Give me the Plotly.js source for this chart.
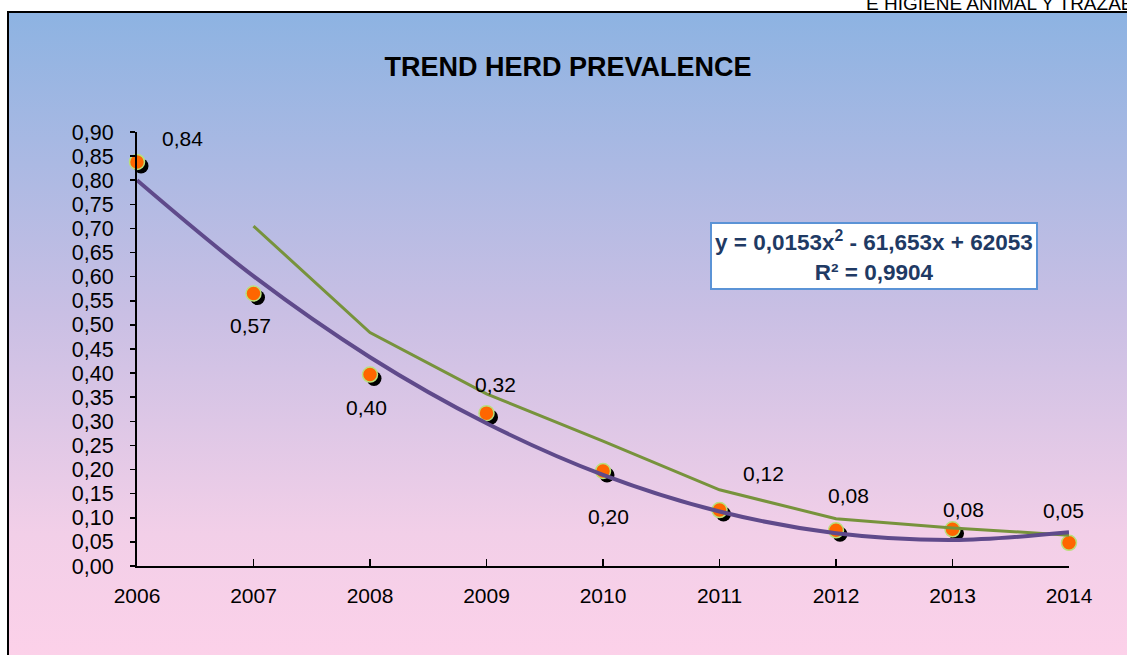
<!DOCTYPE html>
<html>
<head>
<meta charset="utf-8">
<script src="https://cdn.plot.ly/plotly-3.0.1.min.js"></script>
<style>
  html, body { margin:0; padding:0; width:1127px; height:655px; overflow:hidden; background:#ffffff; }
  #frame { position:absolute; left:7px; top:11px; width:1140px; height:700px;
           border:2px solid #000; box-sizing:border-box;
           background:linear-gradient(to bottom, #8db3e2 0px, #c9bfe4 300px, #f2cfe8 520px, #fcd1e9 644px); }
  #header { position:absolute; left:866px; top:-6px; font-family:"Liberation Sans", Arial, sans-serif;
            font-size:19px; line-height:19px; color:#000; white-space:nowrap; }
  #chart { position:absolute; left:0; top:0; width:1127px; height:655px; }
</style>
</head>
<body>
<div id="frame"></div>
<div id="header">E HIGIENE ANIMAL Y TRAZAB</div>
<div id="chart"></div>
<script>
// ---- data ----
const years = [2006, 2007, 2008, 2009, 2010, 2011, 2012, 2013, 2014];
const prevalence = [0.838, 0.565, 0.397, 0.317, 0.197, 0.116, 0.074, 0.076, 0.048];
const labels = ["0,84", "0,57", "0,40", "0,32", "0,20", "0,12", "0,08", "0,08", "0,05"];
const movAvgYears = [2007, 2008, 2009, 2010, 2011, 2012, 2013, 2014];
const movAvg = [0.705, 0.484, 0.357, 0.259, 0.158, 0.098, 0.079, 0.064];
const trend = [0.80, 0.601, 0.433, 0.296, 0.189, 0.113, 0.068, 0.054, 0.070];
const equationText = "y = 0,0153x<sup>2</sup> - 61,653x + 62053<br>R² = 0,9904";
const titleText = "TREND HERD PREVALENCE";

// label offsets in pixels (dx, dy up)
const labelShift = [[45, 23], [-3, -32], [-4, -33], [9, 29], [5, -45], [44, 37], [12, 35], [11, 20], [-6, 32]];

// ---- layout geometry ----
const W = 1127, H = 655;
const M = {l: 137, r: 58, t: 132, b: 89};
const plotW = W - M.l - M.r, plotH = H - M.t - M.b;
const xr = [2006, 2014], yr = [0, 0.9];
const shadowPx = 4;
const dx = shadowPx * (xr[1] - xr[0]) / plotW;
const dy = shadowPx * (yr[1] - yr[0]) / plotH;

const font = "Liberation Sans, Arial, sans-serif";

const traces = [
  { // shadow of markers (on shifted hidden axes)
    x: years, y: prevalence, xaxis: 'x', yaxis: 'y', type: 'scatter', mode: 'markers',
    marker: {size: 15, color: '#000000'}, cliponaxis: false, hoverinfo: 'skip', showlegend: false
  },
  {
    x: years, y: prevalence, xaxis: 'x2', yaxis: 'y2', type: 'scatter', mode: 'markers',
    marker: {size: 15, color: '#ff6600', line: {color: '#b9e07c', width: 1.5}},
    cliponaxis: false, showlegend: false
  },
  {
    x: movAvgYears, y: movAvg, xaxis: 'x2', yaxis: 'y2', type: 'scatter', mode: 'lines',
    line: {color: '#77933c', width: 3}, cliponaxis: false, showlegend: false
  },
  {
    x: years, y: trend, xaxis: 'x2', yaxis: 'y2', type: 'scatter', mode: 'lines',
    line: {color: '#5f4a8b', width: 4, shape: 'spline', smoothing: 1.0}, cliponaxis: false, showlegend: false
  }
];

const annotations = years.map((yr_, i) => ({
  x: yr_, y: prevalence[i], xref: 'x2', yref: 'y2', text: labels[i], showarrow: false,
  xanchor: 'center', yanchor: 'middle',
  xshift: labelShift[i][0], yshift: labelShift[i][1],
  font: {family: font, size: 21, color: '#000000'}
}));
annotations.push({
  x: (874 - M.l) / plotW, y: (H - M.b - 256) / plotH, xref: 'paper', yref: 'paper',
  xanchor: 'center', yanchor: 'middle',
  text: equationText, showarrow: false, align: 'center',
  bgcolor: '#ffffff', bordercolor: '#5b93d6', borderwidth: 2, borderpad: 3,
  font: {family: font, size: 22.5, color: '#1f3a64', weight: 'bold'}
});

const layout = {
  width: W, height: H,
  margin: M,
  paper_bgcolor: 'rgba(0,0,0,0)', plot_bgcolor: 'rgba(0,0,0,0)',
  separators: ', ',
  title: {text: '<b>' + titleText + '</b>', x: 0.504, xanchor: 'center', y: 0.898, yanchor: 'middle',
          font: {family: font, size: 27, color: '#000000'}},
  showlegend: false,
  xaxis: {range: [xr[0] - dx, xr[1] - dx], visible: false, fixedrange: true},
  yaxis: {range: [yr[0] + dy, yr[1] + dy], visible: false, fixedrange: true},
  xaxis2: {overlaying: 'x', range: xr, tickvals: years, ticktext: years.map(String),
           showgrid: false, zeroline: false, showline: true, linecolor: '#000', linewidth: 2,
           ticks: 'inside', ticklen: 7, tickwidth: 1.5, tickcolor: '#000', anchor: 'y2',
           ticklabelstandoff: 10,
           tickfont: {family: font, size: 21, color: '#000'}},
  yaxis2: {overlaying: 'y', range: yr, dtick: 0.05, tick0: 0, tickformat: '.2f',
           showgrid: false, zeroline: false, showline: true, linecolor: '#000', linewidth: 2,
           ticks: 'outside', ticklen: 5, tickwidth: 1.5, tickcolor: '#000', anchor: 'x2', side: 'left',
           ticklabelstandoff: 12,
           tickfont: {family: font, size: 21.5, color: '#000'}},
  annotations: annotations
};

Plotly.newPlot('chart', traces, layout, {displayModeBar: false, staticPlot: true});
</script>
</body>
</html>
